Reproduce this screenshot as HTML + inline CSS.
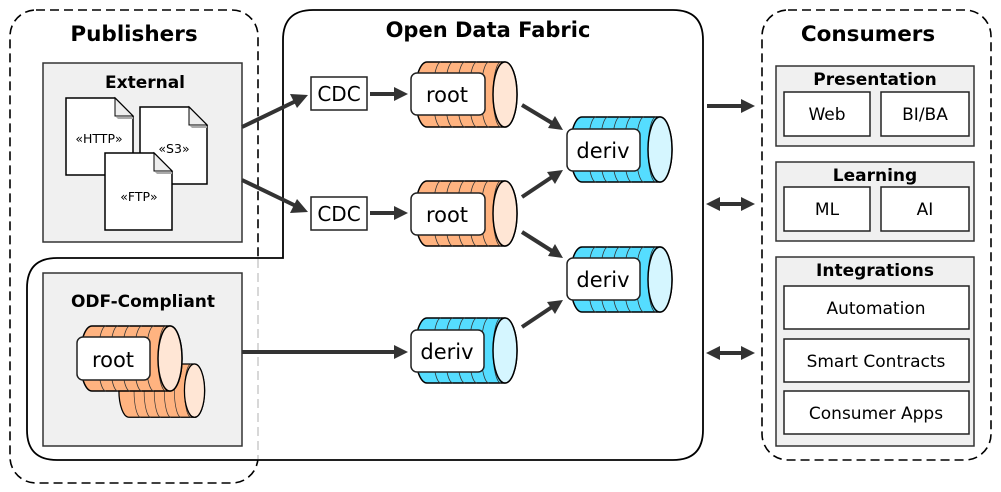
<!DOCTYPE html>
<html><head><meta charset="utf-8"><style>
html,body{margin:0;padding:0;background:#fff;}
svg{display:block;font-family:"DejaVu Sans","Liberation Sans",sans-serif;}
.t{font-weight:bold;text-anchor:middle;fill:#000;}
.c{text-anchor:middle;fill:#000;}
.box{fill:#f0f0f0;stroke:#333;stroke-width:1.5;}
.wb{fill:#fff;stroke:#222;stroke-width:1.5;}
.ar{stroke:#333;stroke-width:4;fill:none;}
.ah{fill:#333;}
</style></head><body>
<svg width="1001" height="492" viewBox="0 0 1001 492" xmlns="http://www.w3.org/2000/svg">
<defs>
<g id="cylO">
<path d="M0,0 L78,0 A12,32.5 0 0 1 78,65 L0,65 A12,32.5 0 0 1 0,0 Z" fill="#ffb380" stroke="#000" stroke-width="1.5"/>
<path d="M14,0 A8,32.5 0 0 0 14,65 M26,0 A8,32.5 0 0 0 26,65 M38,0 A8,32.5 0 0 0 38,65 M50,0 A8,32.5 0 0 0 50,65 M62,0 A8,32.5 0 0 0 62,65 M74,0 A8,32.5 0 0 0 74,65" fill="none" stroke="#333" stroke-width="0.8"/>
<ellipse cx="78" cy="32.5" rx="12" ry="32.5" fill="#ffe6d5" stroke="#000" stroke-width="1.5"/>
</g>
<g id="cylB">
<path d="M0,0 L78,0 A12,32.5 0 0 1 78,65 L0,65 A12,32.5 0 0 1 0,0 Z" fill="#55ddff" stroke="#000" stroke-width="1.5"/>
<path d="M14,0 A8,32.5 0 0 0 14,65 M26,0 A8,32.5 0 0 0 26,65 M38,0 A8,32.5 0 0 0 38,65 M50,0 A8,32.5 0 0 0 50,65 M62,0 A8,32.5 0 0 0 62,65 M74,0 A8,32.5 0 0 0 74,65" fill="none" stroke="#333" stroke-width="0.8"/>
<ellipse cx="78" cy="32.5" rx="12" ry="32.5" fill="#d5f6ff" stroke="#000" stroke-width="1.5"/>
</g>
<g id="doc">
<path d="M0,0 L49,0 L67,18 L67,77 L0,77 Z" fill="#fff" stroke="#000" stroke-width="1.5"/>
<path d="M49,0 L49,18 L67,18 Z" fill="#eee" stroke="#000" stroke-width="1"/>
<path d="M50,19 L67,19 L67,21 L52,21 Z" fill="#aaa"/>
</g>
</defs>

<rect x="10" y="10" width="248" height="473" rx="26" fill="none" stroke="#000" stroke-width="1.6" stroke-dasharray="9,5"/>
<path d="M283,258 L283,40 Q283,10 313,10 L673,10 Q703,10 703,40 L703,430 Q703,460 673,460 L57,460 Q27,460 27,430 L27,288 Q27,258 57,258 Z" fill="#fff" stroke="#000" stroke-width="1.8"/>
<line x1="258" y1="259" x2="258" y2="459" stroke="#ccc" stroke-width="1.5" stroke-dasharray="9,5"/>

<text x="134" y="41" class="t" font-size="21.5">Publishers</text>
<text x="488" y="37" class="t" font-size="21">Open Data Fabric</text>
<text x="868" y="41" class="t" font-size="21.5">Consumers</text>

<rect x="43" y="63" width="199" height="179" class="box"/>
<text x="145" y="88" class="t" font-size="17">External</text>
<use href="#doc" x="66" y="98"/>
<use href="#doc" x="140" y="107"/>
<use href="#doc" x="105" y="153"/>
<text x="99" y="143" class="c" font-size="12.5">«HTTP»</text>
<text x="174" y="153" class="c" font-size="12.5">«S3»</text>
<text x="139" y="201" class="c" font-size="12.5">«FTP»</text>

<rect x="43" y="273" width="199" height="173" class="box"/>
<text x="143" y="307" class="t" font-size="17">ODF-Compliant</text>
<use href="#cylO" transform="translate(129,364) scale(0.84,0.82)"/>
<use href="#cylO" x="92" y="326"/>
<rect x="77" y="337" width="73" height="43" rx="6" class="wb"/>
<text x="113" y="367" class="c" font-size="21">root</text>

<rect x="311" y="77" width="56" height="33" class="wb"/>
<text x="339" y="101" class="c" font-size="20">CDC</text>
<rect x="311" y="197" width="56" height="33" class="wb"/>
<text x="339" y="221" class="c" font-size="20">CDC</text>

<use href="#cylO" x="427" y="62"/>
<rect x="411" y="73" width="74" height="42" rx="6" class="wb"/>
<text x="447" y="102" class="c" font-size="21">root</text>
<use href="#cylO" x="427" y="181"/>
<rect x="411" y="193" width="74" height="42" rx="6" class="wb"/>
<text x="447" y="222" class="c" font-size="21">root</text>
<use href="#cylB" x="582" y="117"/>
<rect x="567" y="129" width="73" height="42" rx="6" class="wb"/>
<text x="603" y="158" class="c" font-size="21">deriv</text>
<use href="#cylB" x="582" y="247"/>
<rect x="567" y="258" width="73" height="42" rx="6" class="wb"/>
<text x="603" y="287" class="c" font-size="21">deriv</text>
<use href="#cylB" x="427" y="318"/>
<rect x="411" y="330" width="73" height="42" rx="6" class="wb"/>
<text x="447" y="359" class="c" font-size="21">deriv</text>

<g>
<line x1="242" y1="127" x2="296" y2="101" class="ar"/><polygon points="308,95 290,94 297,108" class="ah"/>
<line x1="242" y1="180" x2="296" y2="206" class="ar"/><polygon points="308,212 297,199 290,213" class="ah"/>
<line x1="370" y1="94" x2="396" y2="94" class="ar"/><polygon points="408,94 394,87 394,101" class="ah"/>
<line x1="370" y1="213" x2="396" y2="213" class="ar"/><polygon points="408,213 394,206 394,220" class="ah"/>
<line x1="522" y1="105" x2="552" y2="123" class="ar"/><polygon points="563,130 555,116 548,128" class="ah"/>
<line x1="522" y1="197" x2="552" y2="177" class="ar"/><polygon points="563,170 547,172 555,184" class="ah"/>
<line x1="522" y1="232" x2="552" y2="251" class="ar"/><polygon points="563,258 555,244 548,256" class="ah"/>
<line x1="522" y1="327" x2="552" y2="307" class="ar"/><polygon points="563,300 547,302 555,314" class="ah"/>
<line x1="242" y1="352" x2="396" y2="352" class="ar"/><polygon points="408,352 394,345 394,359" class="ah"/>
<line x1="707" y1="106" x2="743" y2="106" class="ar"/><polygon points="755,106 741,99 741,113" class="ah"/>
<line x1="718" y1="204" x2="743" y2="204" class="ar"/><polygon points="755,204 741,197 741,211" class="ah"/><polygon points="706,204 720,197 720,211" class="ah"/>
<line x1="718" y1="353" x2="743" y2="353" class="ar"/><polygon points="755,353 741,346 741,360" class="ah"/><polygon points="706,353 720,346 720,360" class="ah"/>
</g>

<rect x="762" y="10" width="229" height="450" rx="26" fill="none" stroke="#000" stroke-width="1.6" stroke-dasharray="9,5"/>
<rect x="776" y="66" width="198" height="80" class="box"/>
<text x="875" y="85" class="t" font-size="17">Presentation</text>
<rect x="784" y="92" width="86" height="44" class="wb"/><text x="827" y="120" class="c" font-size="17">Web</text>
<rect x="881" y="92" width="88" height="44" class="wb"/><text x="925" y="120" class="c" font-size="17">BI/BA</text>
<rect x="776" y="162" width="198" height="79" class="box"/>
<text x="875" y="181" class="t" font-size="17">Learning</text>
<rect x="784" y="187" width="86" height="44" class="wb"/><text x="827" y="215" class="c" font-size="17">ML</text>
<rect x="881" y="187" width="88" height="44" class="wb"/><text x="925" y="215" class="c" font-size="17">AI</text>
<rect x="776" y="257" width="198" height="189" class="box"/>
<text x="875" y="276" class="t" font-size="17">Integrations</text>
<rect x="784" y="286" width="185" height="43" class="wb"/><text x="876" y="314" class="c" font-size="17">Automation</text>
<rect x="784" y="339" width="185" height="43" class="wb"/><text x="876" y="367" class="c" font-size="17">Smart Contracts</text>
<rect x="784" y="391" width="185" height="43" class="wb"/><text x="876" y="419" class="c" font-size="17">Consumer Apps</text>
</svg>
</body></html>
